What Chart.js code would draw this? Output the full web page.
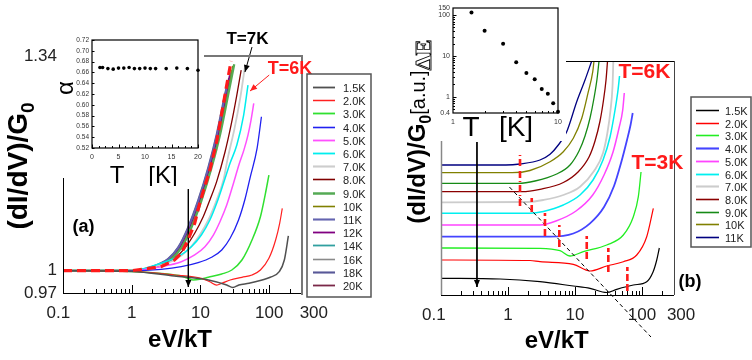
<!DOCTYPE html>
<html>
<head>
<meta charset="utf-8">
<script src="https://cdn.jsdelivr.net/npm/chart.js@4.4.1/dist/chart.umd.min.js"></script>
<style>
  body { margin: 0; background: #fff; }
  #wrap { position: relative; width: 752px; height: 360px; overflow: hidden; background: #fff; }
  canvas { position: absolute; }
</style>
</head>
<body>
<div id="wrap">
  <canvas id="mainA" width="376" height="360" style="left:0;top:0"></canvas>
  <canvas id="mainB" width="376" height="360" style="left:376px;top:0"></canvas>
  <canvas id="insetA" width="210" height="186" style="left:0;top:0"></canvas>
  <canvas id="insetB" width="170" height="145" style="left:400px;top:0"></canvas>
</div>
<script>
// ---- axis ticks ----
const xTicks = [0.1, 1, 10, 100, 300];
// padded so the end labels sit off the tick like in the original
const xTickLabelsA = ['0.1  ', '1', '10', '100', '     300'];
const xTickLabelsB = ['0.1   ', '1', '10', '100', '   300'];
const yTicksA = [0.97, 1, 1.34];
const yTickLabelsA = ['0.97', '1', '1.34'];
const logMinor = [0.2, 0.3, 0.4, 0.5, 0.6, 0.7, 0.8, 0.9, 2, 3, 4, 5, 6, 7, 8, 9, 20, 30, 40, 50, 60, 70, 80, 90, 200];
const logMajor = [1, 10, 100];

// ---- panel (a): (dI/dV)/G0 vs eV/kT ----
const tempsA = ['1.5K', '2.0K', '3.0K', '4.0K', '5.0K', '6.0K', '7.0K', '8.0K', '9.0K', '10K', '11K', '12K', '14K', '16K', '18K', '20K'];
const a1_5K = [[0.1,1.0],[1.0,0.999],[4.15,0.9927],[13.1,0.9874],[24.1,0.9806],[29.6,0.9773],[36.2,0.9806],[50.8,0.9829],[78.9,0.9874],[103.5,0.991],[140,0.9986],[166,1.0146],[190,1.0484]];
const a2K = [[0.1,1.0],[1.0,0.999],[4.19,0.9941],[10.3,0.9896],[13.7,0.985],[17.2,0.9806],[20.4,0.9829],[27.0,0.9874],[40.1,0.991],[56.2,0.9941],[74.5,1.0009],[99,1.017],[124,1.0427],[142,1.0667],[155,1.0887]];
const a3K = [[0.1,1.0],[1.0,0.999],[3.35,0.9954],[5.26,0.9927],[6.59,0.9896],[7.81,0.9874],[9.76,0.9883],[13.0,0.991],[20.4,0.9954],[28.6,1.0009],[40.1,1.0146],[56.2,1.0427],[74.5,1.0763],[88.2,1.1112],[99,1.1392]];
const a4K = [[0.1,1.0],[1.0,1.0],[2.67,1.0018],[5.26,1.0054],[9.25,1.0109],[14.5,1.0184],[20.4,1.0286],[27.0,1.0451],[35.8,1.0715],[44.8,1.1038],[53.1,1.1365],[66.6,1.1815],[77.1,1.2335]];
const a5K = [[0.1,1.0],[1.0,1.0],[2.67,1.0054],[5.26,1.0123],[8.24,1.0216],[11.6,1.0332],[15.4,1.0498],[19.2,1.069],[24.1,1.0936],[30.3,1.127],[36.2,1.155],[42.9,1.179],[49.1,1.203],[54.4,1.228],[59.6,1.256]];
const a6K = [[0.1,1.0],[1.0,1.0],[2.67,1.0101],[4.70,1.0192],[7.38,1.0332],[10.3,1.0498],[13.7,1.0715],[17.2,1.0962],[21.6,1.1265],[27.0,1.158],[33.8,1.1868],[42.5,1.2364],[49.1,1.288]];
const a7K = [[0.1,1.0],[1.0,1.0],[2.11,1.0054],[4.19,1.0146],[6.59,1.0286],[9.76,1.0498],[13.0,1.0715],[17.2,1.1012],[21.6,1.1315],[24.9,1.1655],[31.3,1.2142],[37.8,1.2648],[44.0,1.3177]];
const a8K = [[0.1,1.0],[1.0,1.0],[2.67,1.0078],[4.19,1.017],[5.88,1.0309],[8.24,1.0523],[10.96,1.0763],[13.7,1.1012],[17.2,1.1291],[22.8,1.176],[27.9,1.2197],[33.8,1.2705],[39.1,1.3146]];
const a9K = [[0.1,1.0],[1.0,1.0],[2.14,1.005],[3.77,1.016],[5.29,1.032],[7.42,1.061],[10.4,1.101],[14.6,1.152],[19.4,1.205],[24.3,1.26],[31.0,1.325]];
const a10K = [[0.1,1.0],[1.0,1.0],[2.10,1.005],[3.71,1.016],[5.20,1.032],[7.30,1.061],[10.24,1.101],[14.4,1.152],[19.0,1.205],[23.9,1.26],[29.5,1.322]];
const a11K = [[0.1,1.0],[1.0,1.0],[1.93,1.005],[3.41,1.016],[4.78,1.032],[6.70,1.061],[9.41,1.101],[13.2,1.152],[17.5,1.205],[22.0,1.26],[25.0,1.295]];
const a12K = [[0.1,1.0],[1.0,1.0],[2.0,1.005],[3.52,1.016],[4.94,1.032],[6.93,1.061],[9.73,1.101],[13.7,1.152],[18.1,1.205],[22.7,1.26],[26.5,1.305]];
const a14K = [[0.1,1.0],[1.0,1.0],[2.03,1.005],[3.58,1.016],[5.03,1.032],[7.05,1.061],[9.90,1.101],[13.9,1.152],[18.4,1.205],[23.1,1.26],[27.3,1.31]];
const a16K = [[0.1,1.0],[1.0,1.0],[2.07,1.005],[3.64,1.016],[5.11,1.032],[7.17,1.061],[10.06,1.101],[14.1,1.152],[18.7,1.205],[23.5,1.26],[28.0,1.315]];
const a18K = [[0.1,1.0],[1.0,1.0],[1.90,1.005],[3.35,1.016],[4.70,1.032],[6.59,1.061],[9.25,1.101],[13.0,1.152],[17.2,1.205],[21.6,1.26],[24.1,1.286]];
const a20K = [[0.1,1.0],[1.0,1.0],[1.97,1.005],[3.47,1.016],[4.86,1.032],[6.82,1.061],[9.57,1.101],[13.4,1.152],[17.8,1.205],[22.3,1.26],[25.8,1.30]];
// fit (red dashed) and annotation arrows, in data units
const fitA = [[0.1,1.0],[1.0,1.0],[2.67,1.0054],[4.19,1.0146],[5.26,1.024],[6.59,1.0427],[8.24,1.0667],[9.76,1.0962],[11.6,1.1224],[13.7,1.1471],[17.2,1.1921],[20.4,1.2392],[24.1,1.288],[27.9,1.3308]];
const arrowA = [[6.66,1.1176],[6.66,0.978]];
const arrow7K = [[56.2,1.3565],[44.4,1.311]];
const arrow6K = [[100,1.3057],[52.6,1.2775]];

// ---- inset (a): alpha vs T ----
const tAlpha = [1.5, 2, 3, 4, 5, 6, 7, 8, 9, 10, 11, 12, 14, 16, 18, 20];
const alpha = [0.669, 0.669, 0.667, 0.666, 0.668, 0.668, 0.669, 0.667, 0.667, 0.668, 0.667, 0.667, 0.667, 0.668, 0.667, 0.664];
const alphaTicks = [0.52, 0.54, 0.56, 0.58, 0.60, 0.62, 0.64, 0.66, 0.68, 0.70, 0.72];
const tTicksA = [0, 5, 10, 15, 20];
const tMinorA = [1.25, 2.5, 3.75, 6.25, 7.5, 8.75, 11.25, 12.5, 13.75, 16.25, 17.5, 18.75];

// ---- panel (b): shifted curves, arbitrary units ----
const tempsB = ['1.5K', '2.0K', '3.0K', '4.0K', '5.0K', '6.0K', '7.0K', '8.0K', '9.0K', '10K', '11K'];
const b1_5K = [[0.1,1.67],[0.76,1.6],[3.0,1.33],[9.43,0.9],[16.75,0.67],[29.73,0.25],[41.92,0.57],[74.2,1.0],[117.5,1.33],[146,2.3],[165.8,3.5],[181.2,4.7]];
const b2K = [[0.1,3.5],[2.13,3.45],[3.0,3.33],[9.43,3.07],[16.75,2.4],[29.73,2.9],[52.6,3.33],[83.4,4.0],[117.5,5.83],[147.5,8.67]];
const b3K = [[0.1,4.7],[3.0,4.67],[5.97,4.43],[8.42,3.9],[13.3,4.33],[29.73,5.0],[52.6,6.0],[74.2,7.83],[88.1,9.83],[96.6,12.3]];
const b4K = [[0.1,5.83],[4.24,5.83],[9.43,6.15],[16.75,7.17],[27.09,8.8],[38.21,10.9],[48.61,13.2],[59.7,15.5],[67.4,17.0],[72.6,18.2]];
const b5K = [[0.1,7.0],[3.0,7.0],[5.2,7.4],[10.35,8.4],[18.38,10.0],[27.09,12.0],[36.92,14.3],[45.37,16.7],[51.5,18.5],[54.4,20.2]];
const b6K = [[0.1,8.17],[2.13,8.17],[3.37,8.35],[6.69,9.0],[11.88,10.0],[18.57,11.5],[26.18,13.5],[33.3,15.8],[39.54,18.5],[43.84,20.5],[46.16,21.9]];
const b7K = [[0.1,9.27],[1.99,9.3],[3.37,9.5],[6.69,10.0],[11.88,10.83],[19.21,12.4],[26.18,14.2],[30.56,16.3],[33.88,18.5],[36.29,20.9],[37.3,23.4]];
const b8K = [[0.1,10.33],[1.62,10.33],[3.0,10.57],[6.69,11.25],[11.09,12.3],[16.18,13.8],[19.88,15.4],[23.62,17.4],[26.63,19.5],[29.02,21.5],[30.56,23.4]];
const b9K = [[0.1,11.17],[1.41,11.17],[2.53,11.4],[5.33,12.1],[8.42,13.0],[11.47,14.4],[14.1,15.9],[16.75,17.7],[19.21,19.7],[21.3,21.6],[22.82,23.4]];
const b10K = [[0.1,12.23],[1.15,12.23],[2.13,12.45],[4.24,13.33],[6.69,14.33],[9.43,15.67],[12.6,17.67],[15.8,20.33],[18.4,22.33],[19.2,23.4]];
const b11K = [[0.1,13.0],[0.93,13.0],[1.51,13.1],[3.0,13.5],[4.24,14.07],[5.63,15.0],[7.52,16.33],[10.6,19.33],[14.1,21.5],[17.76,23.4]];
// red gap markers, dashed guide and arrow
const markX = [1.51, 1.51, 1.51, 1.51, 2.26, 3.56, 5.83, 14.96, 31.4, 60.4];
const markLow = [12.9, 11.7, 10.3, 8.9, 8.3, 5.9, 4.8, 3.6, 2.3, 0.4];
const markHigh = [14.0, 12.7, 11.4, 10.0, 9.7, 8.2, 7.0, 5.9, 4.7, 2.8];
const guideB = [[1.05,10.8],[136,-4.2]];
const arrowB = [[0.344,15.3],[0.344,0.8]];

// ---- inset (b): gap energy vs T ----
const tGap = [1.5, 2, 3, 4, 5, 6, 7, 8, 9, 10];
const gapE = [117, 41.6, 20, 7.0, 3.8, 2.7, 1.55, 1.19, 0.69, 0.43];
const gapTicks = [0.4, 1, 10, 100, 150];
const gapTickLabels = ['0.4', '1', '10', '100', '150'];
const gapMinor = [0.5, 0.6, 0.7, 0.8, 0.9, 2, 3, 4, 5, 6, 7, 8, 9, 20, 30, 40, 50, 60, 70, 80, 90];
const tMinorB = [2, 3, 4, 5, 6, 7, 8, 9];

// ---- styles ----
const colorsA = ['#505050','#ff2020','#30e030','#2020f0','#ff50ff','#00eeee','#cdcdcd','#800000','#55aa55','#808000','#6464b0','#800080','#30a0a0','#8a8a8a','#585898','#7a2848'];
const widthsA = [1.5, 1.2, 1.5, 1.3, 1.5, 1.5, 1.8, 1.3, 2.2, 1.3, 1.8, 1.5, 1.5, 1.3, 1.8, 1.5];
const colorsB = ['#000000','#ff0000','#22ee22','#4444ff','#ff44ff','#00f0f0','#cccccc','#8b0000','#168a16','#808000','#000080'];
const widthsB = [1.2, 1.2, 1.3, 1.8, 1.5, 1.5, 1.8, 1.3, 1.3, 1.3, 1.3];

Chart.defaults.font.family = '"Liberation Sans", Arial, sans-serif';
Chart.defaults.color = '#222';

function pts(arr) {
    return arr.map(p => ({ x: p[0], y: p[1] }));
}

function curve(label, arr, color, width) {
    return { label: label, data: pts(arr), borderColor: color, borderWidth: width,
             pointRadius: 0, fill: false, cubicInterpolationMode: 'monotone' };
}

function extra(arr, color, width, dash, arrow) {
    return { data: pts(arr), borderColor: color, borderWidth: width, borderDash: dash || [],
             pointRadius: 0, fill: false, tension: 0, clip: false, hideInLegend: true, arrow: !!arrow };
}

// drawing helpers
function line(ctx, x1, y1, x2, y2, color, w) {
    ctx.save();
    ctx.strokeStyle = color;
    ctx.lineWidth = w;
    ctx.beginPath();
    ctx.moveTo(x1, y1);
    ctx.lineTo(x2, y2);
    ctx.stroke();
    ctx.restore();
}

function label(ctx, str, x, y, font, color) {
    ctx.save();
    ctx.font = font;
    ctx.fillStyle = color || '#000';
    ctx.textAlign = 'center';
    ctx.textBaseline = 'middle';
    ctx.fillText(str, x, y);
    ctx.restore();
}

function vlabel(ctx, parts, x, yc, outline) {
    ctx.save();
    ctx.translate(x, yc);
    ctx.rotate(-Math.PI / 2);
    let total = 0;
    parts.forEach(p => { ctx.font = p.font; p.w = ctx.measureText(p.text).width; total += p.w; });
    let cx = -total / 2;
    ctx.textAlign = 'left';
    ctx.textBaseline = 'alphabetic';
    parts.forEach(p => {
        ctx.font = p.font;
        if (outline) {
            ctx.strokeStyle = '#000';
            ctx.lineWidth = 0.9;
            ctx.strokeText(p.text, cx, p.dy || 0);
        } else {
            ctx.fillStyle = '#000';
            ctx.fillText(p.text, cx, p.dy || 0);
        }
        cx += p.w;
    });
    ctx.restore();
}

function ticksX(chart, values, len) {
    const a = chart.chartArea, s = chart.scales.x;
    values.forEach(v => {
        const px = Math.round(s.getPixelForValue(v)) + 0.5;
        line(chart.ctx, px, a.bottom, px, a.bottom - len, '#000', 1);
    });
}

function ticksY(chart, values, len) {
    const a = chart.chartArea, s = chart.scales.y;
    values.forEach(v => {
        const py = Math.round(s.getPixelForValue(v)) + 0.5;
        line(chart.ctx, a.left, py, a.left + len, py, '#000', 1);
    });
}

function legendBox(chart, b) {
    const ctx = chart.ctx;
    ctx.save();
    ctx.strokeStyle = '#555';
    ctx.lineWidth = 1.5;
    ctx.strokeRect(b.x, b.y, b.w, b.h);
    const items = chart.data.datasets.filter(d => !d.hideInLegend);
    items.forEach((d, i) => {
        const y = Math.round(b.row0 + i * b.dy) + 0.5;
        line(ctx, b.l0, y, b.l1, y, d.borderColor, d.borderWidth + 0.3);
        ctx.font = '11px "Liberation Sans", Arial, sans-serif';
        ctx.fillStyle = '#222';
        ctx.textAlign = 'left';
        ctx.textBaseline = 'middle';
        ctx.fillText(d.label, b.tx, y + 1);
    });
    ctx.restore();
}

function arrowHeads(chart) {
    const ctx = chart.ctx;
    chart.data.datasets.forEach((d, i) => {
        if (!d.arrow) return;
        const p = chart.getDatasetMeta(i).data;
        const tip = p[p.length - 1], prev = p[p.length - 2];
        const ang = Math.atan2(tip.y - prev.y, tip.x - prev.x);
        ctx.save();
        ctx.translate(tip.x, tip.y);
        ctx.rotate(ang);
        ctx.fillStyle = d.borderColor;
        ctx.beginPath();
        ctx.moveTo(0, 0);
        ctx.lineTo(-7, -3);
        ctx.lineTo(-7, 3);
        ctx.closePath();
        ctx.fill();
        ctx.restore();
    });
}

function decor(before, after) {
    return {
        id: 'decor',
        beforeDraw: chart => { if (before) before(chart, chart.ctx); },
        afterDatasetsDraw: chart => arrowHeads(chart),
        afterDraw: chart => { if (after) after(chart, chart.ctx); }
    };
}

function whiten(ctx, x, y, w, h) {
    ctx.save();
    ctx.fillStyle = '#fff';
    ctx.fillRect(x, y, w, h);
    ctx.restore();
}

function logX(height, labels) {
    return {
        type: 'logarithmic', min: 0.1, max: 300,
        afterBuildTicks: s => { s.ticks = xTicks.map(v => ({ value: v })); },
        afterFit: s => { s.height = height; },
        grid: { display: false, drawTicks: false }, border: { display: false },
        ticks: { font: { size: 17 }, color: '#222', padding: 10, maxRotation: 0, autoSkip: false,
                 callback: (v, i) => labels[i] }
    };
}

const baseOpts = {
    responsive: false, animation: false, events: [],
    plugins: { legend: { display: false }, tooltip: { enabled: false } }
};

// CHART (a)
new Chart(document.getElementById('mainA'), {
    type: 'line',
    data: {
        datasets: [
            extra(fitA, '#ff1a1a', 3.2, [9, 5]),
            extra(arrowA, '#000', 1, [], true),
            extra(arrow7K, '#000', 1, [], true),
            extra(arrow6K, '#ff2020', 1, [], true)
        ].concat([a1_5K, a2K, a3K, a4K, a5K, a6K, a7K, a8K, a9K, a10K, a11K, a12K, a14K, a16K, a18K, a20K]
            .map((c, i) => curve(tempsA[i], c, colorsA[i], widthsA[i])))
    },
    options: Object.assign({}, baseOpts, {
        layout: { padding: { left: 0, top: 56, right: 74, bottom: 0 } },
        scales: {
            x: logX(67, xTickLabelsA),
            y: {
                type: 'logarithmic', min: 0.97, max: 1.34,
                afterBuildTicks: s => { s.ticks = yTicksA.map(v => ({ value: v })); },
                afterFit: s => { s.width = 63; },
                grid: { display: false, drawTicks: false }, border: { display: false },
                ticks: { font: { size: 17 }, color: '#222', padding: 6, callback: (v, i) => yTickLabelsA[i] }
            }
        }
    }),
    plugins: [decor(null, (chart, ctx) => {
        const a = chart.chartArea;
        line(ctx, a.left + 0.5, a.top, a.left + 0.5, a.bottom, '#000', 1);
        line(ctx, a.left, a.bottom + 0.5, a.right, a.bottom + 0.5, '#000', 1);
        line(ctx, a.right, a.top, a.right, a.bottom + 2, '#777', 2);
        line(ctx, a.left, a.top, a.right + 1, a.top, '#777', 2);
        ticksX(chart, logMinor, 4);
        ticksX(chart, logMajor, 8);
        vlabel(ctx, [{ text: '(dI/dV)/G', font: 'bold 28px "Liberation Sans", Arial' },
                     { text: '0', font: 'bold 19px "Liberation Sans", Arial', dy: 7 }], 27, 166);
        label(ctx, 'eV/kT', 180, 340, 'bold 24px "Liberation Sans", Arial');
        label(ctx, '(a)', 83.5, 227, 'bold 18px "Liberation Sans", Arial');
        label(ctx, 'T=7K', 247.5, 39, 'bold 17px "Liberation Sans", Arial');
        label(ctx, 'T=6K', 290, 69, 'bold 18px "Liberation Sans", Arial', '#ff1a1a');
        legendBox(chart, { x: 307, y: 74, w: 64, h: 223, row0: 87, dy: 13.2, l0: 313, l1: 335, tx: 343 });
    })]
});

// CHART (b)
const marksData = [];
markX.forEach((x, i) => { marksData.push([x, markLow[i]], [x, markHigh[i]], [x, null]); });

new Chart(document.getElementById('mainB'), {
    type: 'line',
    data: {
        datasets: [
            extra(marksData, '#ff1a1a', 2.6, [7, 3]),
            extra(guideB, '#000', 1, [4, 3]),
            extra(arrowB, '#000', 1, [], true)
        ].concat([b1_5K, b2K, b3K, b4K, b5K, b6K, b7K, b8K, b9K, b10K, b11K]
            .map((c, i) => curve(tempsB[i], c, colorsB[i], widthsB[i])))
    },
    options: Object.assign({}, baseOpts, {
        layout: { padding: { left: 0, top: 61, right: 78, bottom: 0 } },
        scales: {
            x: logX(65, xTickLabelsB),
            y: {
                type: 'linear', min: 0, max: 23.4,
                afterFit: s => { s.width = 65; },
                grid: { display: false, drawTicks: false }, border: { display: false },
                ticks: { display: false }
            }
        }
    }),
    plugins: [decor(null, (chart, ctx) => {
        const a = chart.chartArea;
        line(ctx, a.left + 0.5, a.top, a.left + 0.5, a.bottom, '#888', 1.5);
        line(ctx, a.left, a.bottom + 0.5, a.right, a.bottom + 0.5, '#000', 1);
        line(ctx, a.left, a.top + 0.5, a.right, a.top + 0.5, '#000', 1);
        line(ctx, a.right + 0.5, a.top, a.right + 0.5, a.bottom, '#444', 1);
        ticksX(chart, logMinor, 4);
        ticksX(chart, logMajor, 8);
        vlabel(ctx, [{ text: '(dI/dV)/G', font: 'bold 24px "Liberation Sans", Arial' },
                     { text: '0', font: 'bold 16px "Liberation Sans", Arial', dy: 6 },
                     { text: '[a.u.]', font: '20px "Liberation Sans", Arial' }], 49, 147);
        label(ctx, 'eV/kT', 180.7, 341.7, 'bold 24px "Liberation Sans", Arial');
        label(ctx, '(b)', 314, 282, 'bold 18px "Liberation Sans", Arial');
        label(ctx, 'T=6K', 268.5, 72.5, 'bold 21px "Liberation Sans", Arial', '#ff1a1a');
        label(ctx, 'T=3K', 281.5, 163, 'bold 21px "Liberation Sans", Arial', '#ff1a1a');
        legendBox(chart, { x: 315, y: 97, w: 60, h: 150, row0: 110, dy: 12.7, l0: 320, l1: 343, tx: 349 });
    })]
});

// INSET (a)
new Chart(document.getElementById('insetA'), {
    type: 'scatter',
    data: {
        datasets: [{ data: pts(tAlpha.map((t, i) => [t, alpha[i]])), pointRadius: 1.8,
                     pointBackgroundColor: '#000', pointBorderWidth: 0, showLine: false, clip: false }]
    },
    options: Object.assign({}, baseOpts, {
        layout: { padding: { left: 0, top: 40, right: 12, bottom: 0 } },
        scales: {
            x: {
                type: 'linear', min: 0, max: 20,
                afterBuildTicks: s => { s.ticks = tTicksA.map(v => ({ value: v })); },
                afterFit: s => { s.height = 38; },
                grid: { display: false, drawTicks: false }, border: { display: false },
                ticks: { font: { size: 7 }, color: '#333', padding: 5, maxRotation: 0, autoSkip: false }
            },
            y: {
                type: 'linear', min: 0.52, max: 0.72,
                afterBuildTicks: s => { s.ticks = alphaTicks.map(v => ({ value: v })); },
                afterFit: s => { s.width = 92; },
                grid: { display: false, drawTicks: false }, border: { display: false },
                ticks: { font: { size: 6.5 }, color: '#333', padding: 3, autoSkip: false,
                         callback: v => v.toFixed(2) }
            }
        }
    }),
    plugins: [decor((chart, ctx) => whiten(ctx, 60, 0, 144, 178), (chart, ctx) => {
        const a = chart.chartArea;
        ctx.save();
        ctx.strokeStyle = '#000';
        ctx.lineWidth = 1.2;
        ctx.strokeRect(a.left, a.top, a.right - a.left, a.bottom - a.top);
        ctx.restore();
        ticksX(chart, tMinorA, 2);
        ticksX(chart, tTicksA, 3.5);
        ticksY(chart, alphaTicks, 2.5);
        vlabel(ctx, [{ text: 'α', font: '24px "Liberation Sans", Arial' }], 73, 88);
        label(ctx, 'T', 117, 176, '24px "Liberation Sans", Arial');
        label(ctx, '[K]', 163, 176, '24px "Liberation Sans", Arial');
    })]
});

// INSET (b)
new Chart(document.getElementById('insetB'), {
    type: 'scatter',
    data: {
        datasets: [{ data: pts(tGap.map((t, i) => [t, gapE[i]])), pointRadius: 2,
                     pointBackgroundColor: '#000', pointBorderWidth: 0, showLine: false, clip: false }]
    },
    options: Object.assign({}, baseOpts, {
        layout: { padding: { left: 0, top: 8, right: 12, bottom: 0 } },
        scales: {
            x: {
                type: 'logarithmic', min: 1, max: 10,
                afterBuildTicks: s => { s.ticks = [1, 10].map(v => ({ value: v })); },
                afterFit: s => { s.height = 32; },
                grid: { display: false, drawTicks: false }, border: { display: false },
                ticks: { font: { size: 7 }, color: '#333', padding: 5, maxRotation: 0, autoSkip: false,
                         callback: v => String(v) }
            },
            y: {
                type: 'logarithmic', min: 0.4, max: 150,
                afterBuildTicks: s => { s.ticks = gapTicks.map(v => ({ value: v })); },
                afterFit: s => { s.width = 53; },
                grid: { display: false, drawTicks: false }, border: { display: false },
                ticks: { font: { size: 7 }, color: '#333', padding: 3, autoSkip: false,
                         callback: (v, i) => gapTickLabels[i] }
            }
        }
    }),
    plugins: [decor((chart, ctx) => whiten(ctx, 36, 0, 130, 141), (chart, ctx) => {
        const a = chart.chartArea;
        ctx.save();
        ctx.strokeStyle = '#000';
        ctx.lineWidth = 1.2;
        ctx.strokeRect(a.left, a.top, a.right - a.left, a.bottom - a.top);
        ctx.restore();
        ticksX(chart, tMinorB, 2);
        ticksY(chart, gapMinor, 2);
        ticksY(chart, [1, 10, 100], 3.5);
        vlabel(ctx, [{ text: 'ΔE', font: 'bold 24px "Liberation Serif", serif' }], 31, 55, true);
        label(ctx, 'T', 71, 128, '28px "Liberation Sans", Arial');
        label(ctx, '[K]', 116, 128, '28px "Liberation Sans", Arial');
    })]
});
</script>
</body>
</html>
